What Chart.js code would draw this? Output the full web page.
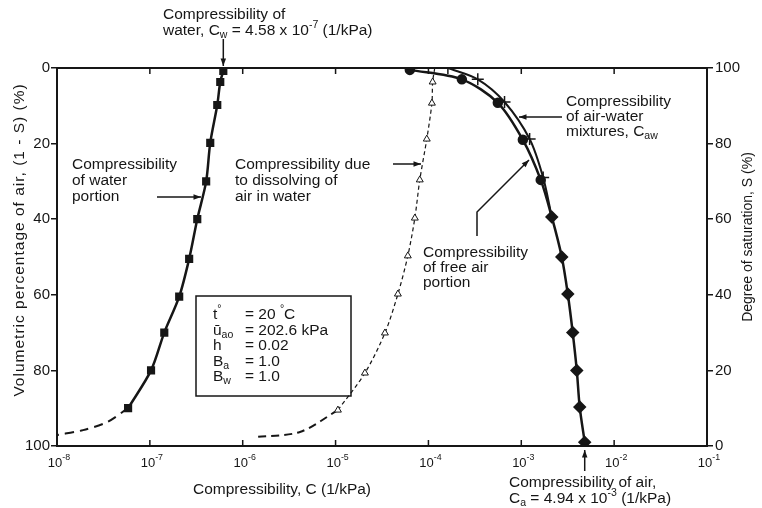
<!DOCTYPE html>
<html>
<head>
<meta charset="utf-8">
<script src="https://cdn.jsdelivr.net/npm/chart.js@4.4.0/dist/chart.umd.min.js"></script>
<style>
  html, body { margin: 0; padding: 0; background: #fff; }
  canvas { display: block; }
</style>
</head>
<body>
<canvas id="chart" width="762" height="508"></canvas>
<script>
// values (compressibility in 1/kPa, air percentage in %)
const xTicks = [1e-8, 1e-7, 1e-6, 1e-5, 1e-4, 1e-3, 1e-2, 1e-1];
const xExp   = ['-8', '-7', '-6', '-5', '-4', '-3', '-2', '-1'];

const waterC = [6.18e-7, 5.73e-7, 5.32e-7, 4.47e-7, 4.04e-7, 3.24e-7, 2.65e-7, 2.07e-7, 1.43e-7, 1.03e-7, 5.83e-8];
const waterS = [0.8, 3.7, 9.8, 19.8, 30, 40, 50.5, 60.5, 70, 80, 90];
const waterExtC = [5.83e-8, 3.45e-8, 1.91e-8, 1.0e-8];
const waterExtS = [90, 93.7, 95.8, 97.1];

const dissC = [1.17e-4, 1.11e-4, 1.09e-4, 9.6e-5, 8.07e-5, 7.14e-5, 6.0e-5, 4.69e-5, 3.40e-5, 2.07e-5, 1.06e-5];
const dissS = [0, 3.7, 9.3, 18.8, 29.6, 39.7, 49.7, 59.8, 70.1, 80.7, 90.5];
const dissExtC = [1.06e-5, 4.13e-6, 1.42e-6];
const dissExtS = [90.5, 96.3, 97.6];

const mixC = [6.31e-5, 2.29e-4, 5.59e-4, 1.04e-3, 1.62e-3];
const mixS = [0.5, 3, 9.2, 19, 29.6];
const airC = [2.13e-3, 2.73e-3, 3.17e-3, 3.58e-3, 3.96e-3, 4.26e-3, 4.82e-3];
const airS = [39.4, 50, 59.8, 70, 80, 89.7, 99];
const freeC = [1.62e-4, 3.40e-4, 6.6e-4, 1.23e-3, 1.72e-3, 2.13e-3];
const freeS = [0, 3, 9, 18.8, 29, 39.4];

const ink = '#161616';
const fam = '"Liberation Sans", Arial, sans-serif';
const fs = 15.5;

const pts = (xs, ys) => xs.map((x, i) => ({x: x, y: ys[i]}));

// text with sub/superscript pieces
function rich(ctx, x, y, parts, size, align) {
    const segs = parts.map(p => typeof p === 'string' ? [p, ''] : p);
    const widthOf = s => { ctx.font = (s[1] ? size * 0.68 : size) + 'px ' + fam; return ctx.measureText(s[0]).width; };
    let total = 0;
    segs.forEach(s => total += widthOf(s));
    let cx = align === 'center' ? x - total / 2 : x;
    ctx.textAlign = 'left';
    ctx.textBaseline = 'middle';
    segs.forEach(s => {
        const w = widthOf(s);
        const dy = s[1] === 'sup' ? -size * 0.38 : s[1] === 'sub' ? size * 0.28 : 0;
        ctx.fillText(s[0], cx, y + dy);
        cx += w;
    });
}

function arrow(ctx, path) {
    ctx.beginPath();
    ctx.moveTo(path[0][0], path[0][1]);
    path.slice(1).forEach(p => ctx.lineTo(p[0], p[1]));
    ctx.stroke();
    const [x2, y2] = path[path.length - 1];
    const [x1, y1] = path[path.length - 2];
    const a = Math.atan2(y2 - y1, x2 - x1);
    ctx.beginPath();
    ctx.moveTo(x2, y2);
    ctx.lineTo(x2 - 8 * Math.cos(a - 0.35), y2 - 8 * Math.sin(a - 0.35));
    ctx.lineTo(x2 - 8 * Math.cos(a + 0.35), y2 - 8 * Math.sin(a + 0.35));
    ctx.closePath();
    ctx.fill();
}

const frame = {
    id: 'frame',
    afterDraw(chart) {
        const ctx = chart.ctx, a = chart.chartArea, xs = chart.scales.x;
        ctx.save();
        ctx.strokeStyle = ink; ctx.fillStyle = ink;
        // top border
        ctx.lineWidth = 2;
        ctx.beginPath(); ctx.moveTo(a.left, a.top); ctx.lineTo(a.right, a.top); ctx.stroke();
        // decade ticks (inside) and labels
        ctx.lineWidth = 1.5;
        xTicks.forEach((v, i) => {
            const px = xs.getPixelForValue(v);
            if (i > 0 && i < xTicks.length - 1) {
                ctx.beginPath();
                ctx.moveTo(px, a.bottom); ctx.lineTo(px, a.bottom - 6);
                ctx.moveTo(px, a.top); ctx.lineTo(px, a.top + 6);
                ctx.stroke();
            }
            rich(ctx, px + 2, a.bottom + 17, ['10', [xExp[i], 'sup']], 13, 'center');
        });

        // axis titles
        ctx.textAlign = 'center'; ctx.textBaseline = 'middle';
        ctx.save(); ctx.translate(20, 240); ctx.rotate(-Math.PI / 2);
        ctx.font = fs + 'px ' + fam;
        ctx.letterSpacing = '1px';
        ctx.fillText('Volumetric percentage of air, (1 - S) (%)', 0, 0); ctx.restore();
        ctx.save(); ctx.translate(748, 237); ctx.rotate(-Math.PI / 2);
        ctx.font = '14px ' + fam;
        ctx.fillText('Degree of saturation, S (%)', 0, 0); ctx.restore();
        rich(ctx, 282, 490, ['Compressibility, C (1/kPa)'], fs, 'center');

        // annotations
        ctx.lineWidth = 1.5;
        const wx = xs.getPixelForValue(waterC[0]);
        rich(ctx, 163, 15, ['Compressibility of'], fs);
        rich(ctx, 163, 31, ['water, C', ['w', 'sub'], ' = 4.58 x 10', ['-7', 'sup'], ' (1/kPa)'], fs);
        arrow(ctx, [[wx, 39], [wx, 66]]);

        ['Compressibility', 'of water', 'portion'].forEach((t, i) => rich(ctx, 72, 165 + i * 16, [t], fs));
        arrow(ctx, [[157, 197], [201, 197]]);

        ['Compressibility due', 'to dissolving of', 'air in water'].forEach((t, i) => rich(ctx, 235, 165 + i * 16, [t], fs));
        arrow(ctx, [[393, 164], [421, 164]]);

        rich(ctx, 566, 102, ['Compressibility'], fs);
        rich(ctx, 566, 117, ['of air-water'], fs);
        rich(ctx, 566, 132, ['mixtures, C', ['aw', 'sub']], fs);
        arrow(ctx, [[562, 117], [519, 117]]);

        ['Compressibility', 'of free air', 'portion'].forEach((t, i) => rich(ctx, 423, 253 + i * 15, [t], fs));
        arrow(ctx, [[477, 236], [477, 212], [529, 160]]);

        ctx.strokeRect(196, 296, 155, 100);
        const box = [
            [['t', ['°', 'sup']], ['= 20 ', ['°', 'sup'], 'C']],
            [['ū', ['ao', 'sub']], ['= 202.6 kPa']],
            [['h'], ['= 0.02']],
            [['B', ['a', 'sub']], ['= 1.0']],
            [['B', ['w', 'sub']], ['= 1.0']]
        ];
        box.forEach((row, i) => {
            rich(ctx, 213, 315 + i * 15.5, row[0], fs);
            rich(ctx, 245, 315 + i * 15.5, row[1], fs);
        });

        const ax = xs.getPixelForValue(airC[airC.length - 1]);
        arrow(ctx, [[ax, 471], [ax, 450]]);
        rich(ctx, 509, 483, ['Compressibility of air,'], fs);
        rich(ctx, 509, 499, ['C', ['a', 'sub'], ' = 4.94 x 10', ['-3', 'sup'], ' (1/kPa)'], fs);
        ctx.restore();
    }
};

const mixStyle = mixC.map(() => 'circle').concat(airC.map(() => 'rectRot'));
const mixRadius = mixC.map(() => 4).concat(airC.map(() => 5));

new Chart(document.getElementById('chart').getContext('2d'), {
    type: 'scatter',
    data: {
        datasets: [
            {label: 'Water portion', data: pts(waterC, waterS), showLine: true, tension: 0.3,
             borderColor: ink, borderWidth: 2.5, pointStyle: 'rect', pointRadius: 4, pointBackgroundColor: ink, pointBorderColor: ink},
            {label: 'Water ext', data: pts(waterExtC, waterExtS), showLine: true, tension: 0.3,
             borderColor: ink, borderWidth: 2, borderDash: [9, 6], pointRadius: 0},
            {label: 'Dissolving', data: pts(dissC, dissS), showLine: true, tension: 0.3,
             borderColor: ink, borderWidth: 1.2, borderDash: [4, 3],
             pointStyle: 'triangle', pointRadius: dissC.map((v, i) => i === 0 ? 0 : 4),
             pointBackgroundColor: '#fff', pointBorderColor: ink, pointBorderWidth: 1},
            {label: 'Dissolving ext', data: pts(dissExtC, dissExtS), showLine: true, tension: 0.3,
             borderColor: ink, borderWidth: 2, borderDash: [8, 5], pointRadius: 0},
            {label: 'Free air', data: pts(freeC, freeS), showLine: true, tension: 0.3,
             borderColor: ink, borderWidth: 2, pointStyle: 'cross', pointRadius: freeC.map((v, i) => i === freeC.length - 1 ? 0 : 6),
             pointBorderColor: ink, pointBorderWidth: 1.5},
            {label: 'Air-water mixture', data: pts(mixC.concat(airC), mixS.concat(airS)), showLine: true, tension: 0.3,
             borderColor: ink, borderWidth: 2.5, pointStyle: mixStyle, pointRadius: mixRadius,
             pointBackgroundColor: ink, pointBorderColor: ink}
        ]
    },
    options: {
        responsive: false,
        animation: false,
        layout: {padding: {top: 68, bottom: 62, left: 0, right: 0}},
        plugins: {legend: {display: false}, tooltip: {enabled: false}},
        scales: {
            x: {
                type: 'logarithmic', min: 1e-8, max: 1e-1,
                afterBuildTicks: s => { s.ticks = xTicks.map(v => ({value: v})); },
                ticks: {display: false},
                grid: {display: false},
                border: {color: ink, width: 2},
                afterFit: s => { s.height = 0; }
            },
            y: {
                position: 'left', reverse: true, min: 0, max: 100,
                ticks: {stepSize: 20, color: ink, font: {size: 15, family: fam}, padding: 1},
                grid: {drawOnChartArea: false, tickLength: 6, color: ink, lineWidth: 1.5},
                border: {color: ink, width: 2},
                afterFit: s => { s.width = 57; }
            },
            y2: {
                position: 'right', min: 0, max: 100,
                ticks: {stepSize: 20, color: ink, font: {size: 15, family: fam}, padding: 2},
                grid: {drawOnChartArea: false, tickLength: 6, color: ink, lineWidth: 1.5},
                border: {color: ink, width: 2},
                afterFit: s => { s.width = 55; }
            }
        }
    },
    plugins: [frame]
});
</script>
</body>
</html>
